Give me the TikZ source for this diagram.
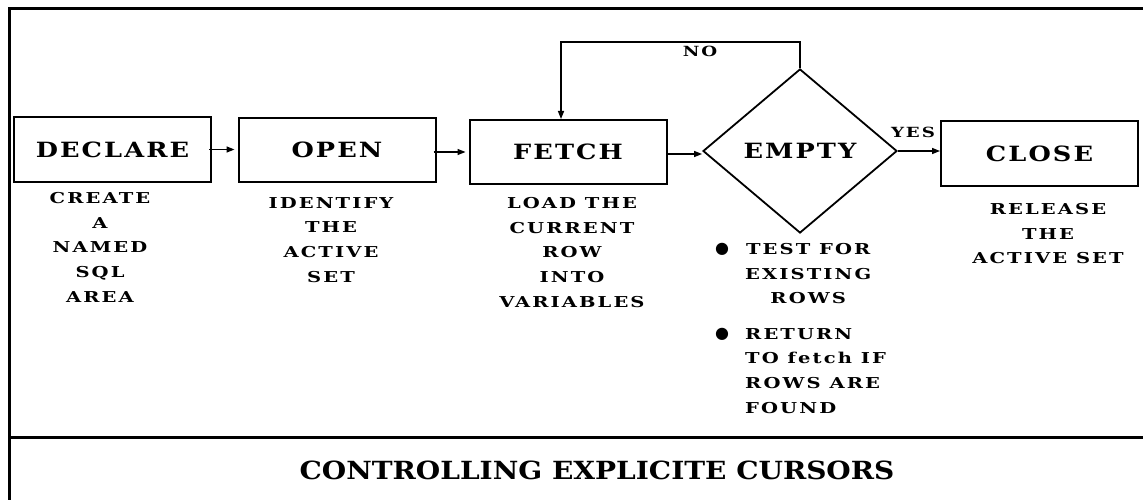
\documentclass[tikz,border=0pt]{standalone}
\usepackage{fontspec}
\usetikzlibrary{shapes.geometric,arrows.meta}
\newfontfamily\slab[FakeStretch=1.22,LetterSpace=10]{DejaVu Serif Bold}
\newfontfamily\slabdesc[FakeStretch=1.3,LetterSpace=14]{DejaVu Serif Bold}
\newfontfamily\slabtitle[FakeStretch=1.12]{DejaVu Serif Bold}
\newfontfamily\bulfont{DejaVu Sans}
\tikzset{
  frame/.style={line width=3pt},
  stepbox/.style={draw, line width=2pt, minimum width=197pt, minimum height=64pt, inner sep=0pt, font=\slab\fontsize{21}{24}\selectfont},
  decision/.style={draw, diamond, line width=1.8pt, minimum width=194pt, minimum height=164pt, inner sep=0pt, aspect=1.18, font=\slab\fontsize{21}{24}\selectfont},
  desc/.style={inner sep=0pt, align=center, font=\slabdesc\fontsize{15}{24.8}\selectfont},
  descl/.style={inner sep=0pt, align=left, font=\slabdesc\fontsize{15}{24.8}\selectfont},
  lbl/.style={inner sep=0pt, font=\slabdesc\fontsize{14}{16}\selectfont},
  arr/.style={line width=1.4pt, -{Triangle[length=8pt,width=6pt]}},
  bul/.style={inner sep=0pt, font=\bulfont\fontsize{16}{16}\selectfont}
}
\begin{document}
\begin{tikzpicture}[x=1pt,y=-1pt]
\useasboundingbox (0,0) rectangle (1143,500);
\clip (0,0) rectangle (1143,500);
% frame
\draw[frame] (9,520) -- (9,9) -- (1160,9);
\draw[frame] (9,437) -- (1160,437);
% boxes
\node[stepbox] (dec) at (112.5,149.5) {DECLARE};
\node[stepbox] (open) at (337,150) {OPEN};
\node[stepbox] (fetch) at (568,152) {FETCH};
\node[decision] (empty) at (800,151) {EMPTY};
\node[stepbox] (close) at (1039.5,153.5) {CLOSE};
% connectors
\draw[arr] ([xshift=-3pt]dec.east) -- ([xshift=-3pt]dec.east -| open.west);
\draw[arr] ([xshift=-3pt,yshift=-2pt]open.east) -- ([xshift=-3pt,yshift=-2pt]open.east -| fetch.west);
\draw[arr] ([yshift=-2pt]fetch.east) -- ([yshift=-2pt]fetch.east -| empty.west);
\draw[arr] (empty.east) -- (empty.east -| close.west);
\coordinate (nocorner) at (561,42);
\draw[arr] (empty.north) |- (nocorner) -- ([xshift=-7pt]fetch.north);
\node[lbl] (nolbl) at (700,51) {NO};
\node[lbl] (yeslbl) at (913,132) {YES};
% descriptions
\node[desc, anchor=north] (d1) at (100,192) {CREATE\\A\\NAMED\\SQL\\AREA};
\node[desc, anchor=north] (d2) at (331,197) {IDENTIFY\\THE\\ACTIVE\\SET};
\node[desc, anchor=north] (d3) at (572,197) {LOAD THE\\CURRENT\\ROW\\INTO\\VARIABLES};
\node[desc, anchor=north] (d5) at (1048,203) {RELEASE\\THE\\ACTIVE SET};
\node[bul] (b1) at (722,249) {●};
\node[desc, anchor=north west] (t1) at (745,243) {TEST FOR\\EXISTING\\ROWS};
\node[bul] (b2) at (722,334) {●};
\node[descl, anchor=north west] (t2) at (745,328) {RETURN\\TO fetch IF\\ROWS ARE\\FOUND};
% title
\node[inner sep=0pt, font=\slabtitle\fontsize{25}{28}\selectfont] (title) at (597,470) {CONTROLLING EXPLICITE CURSORS};
\end{tikzpicture}
\end{document}
